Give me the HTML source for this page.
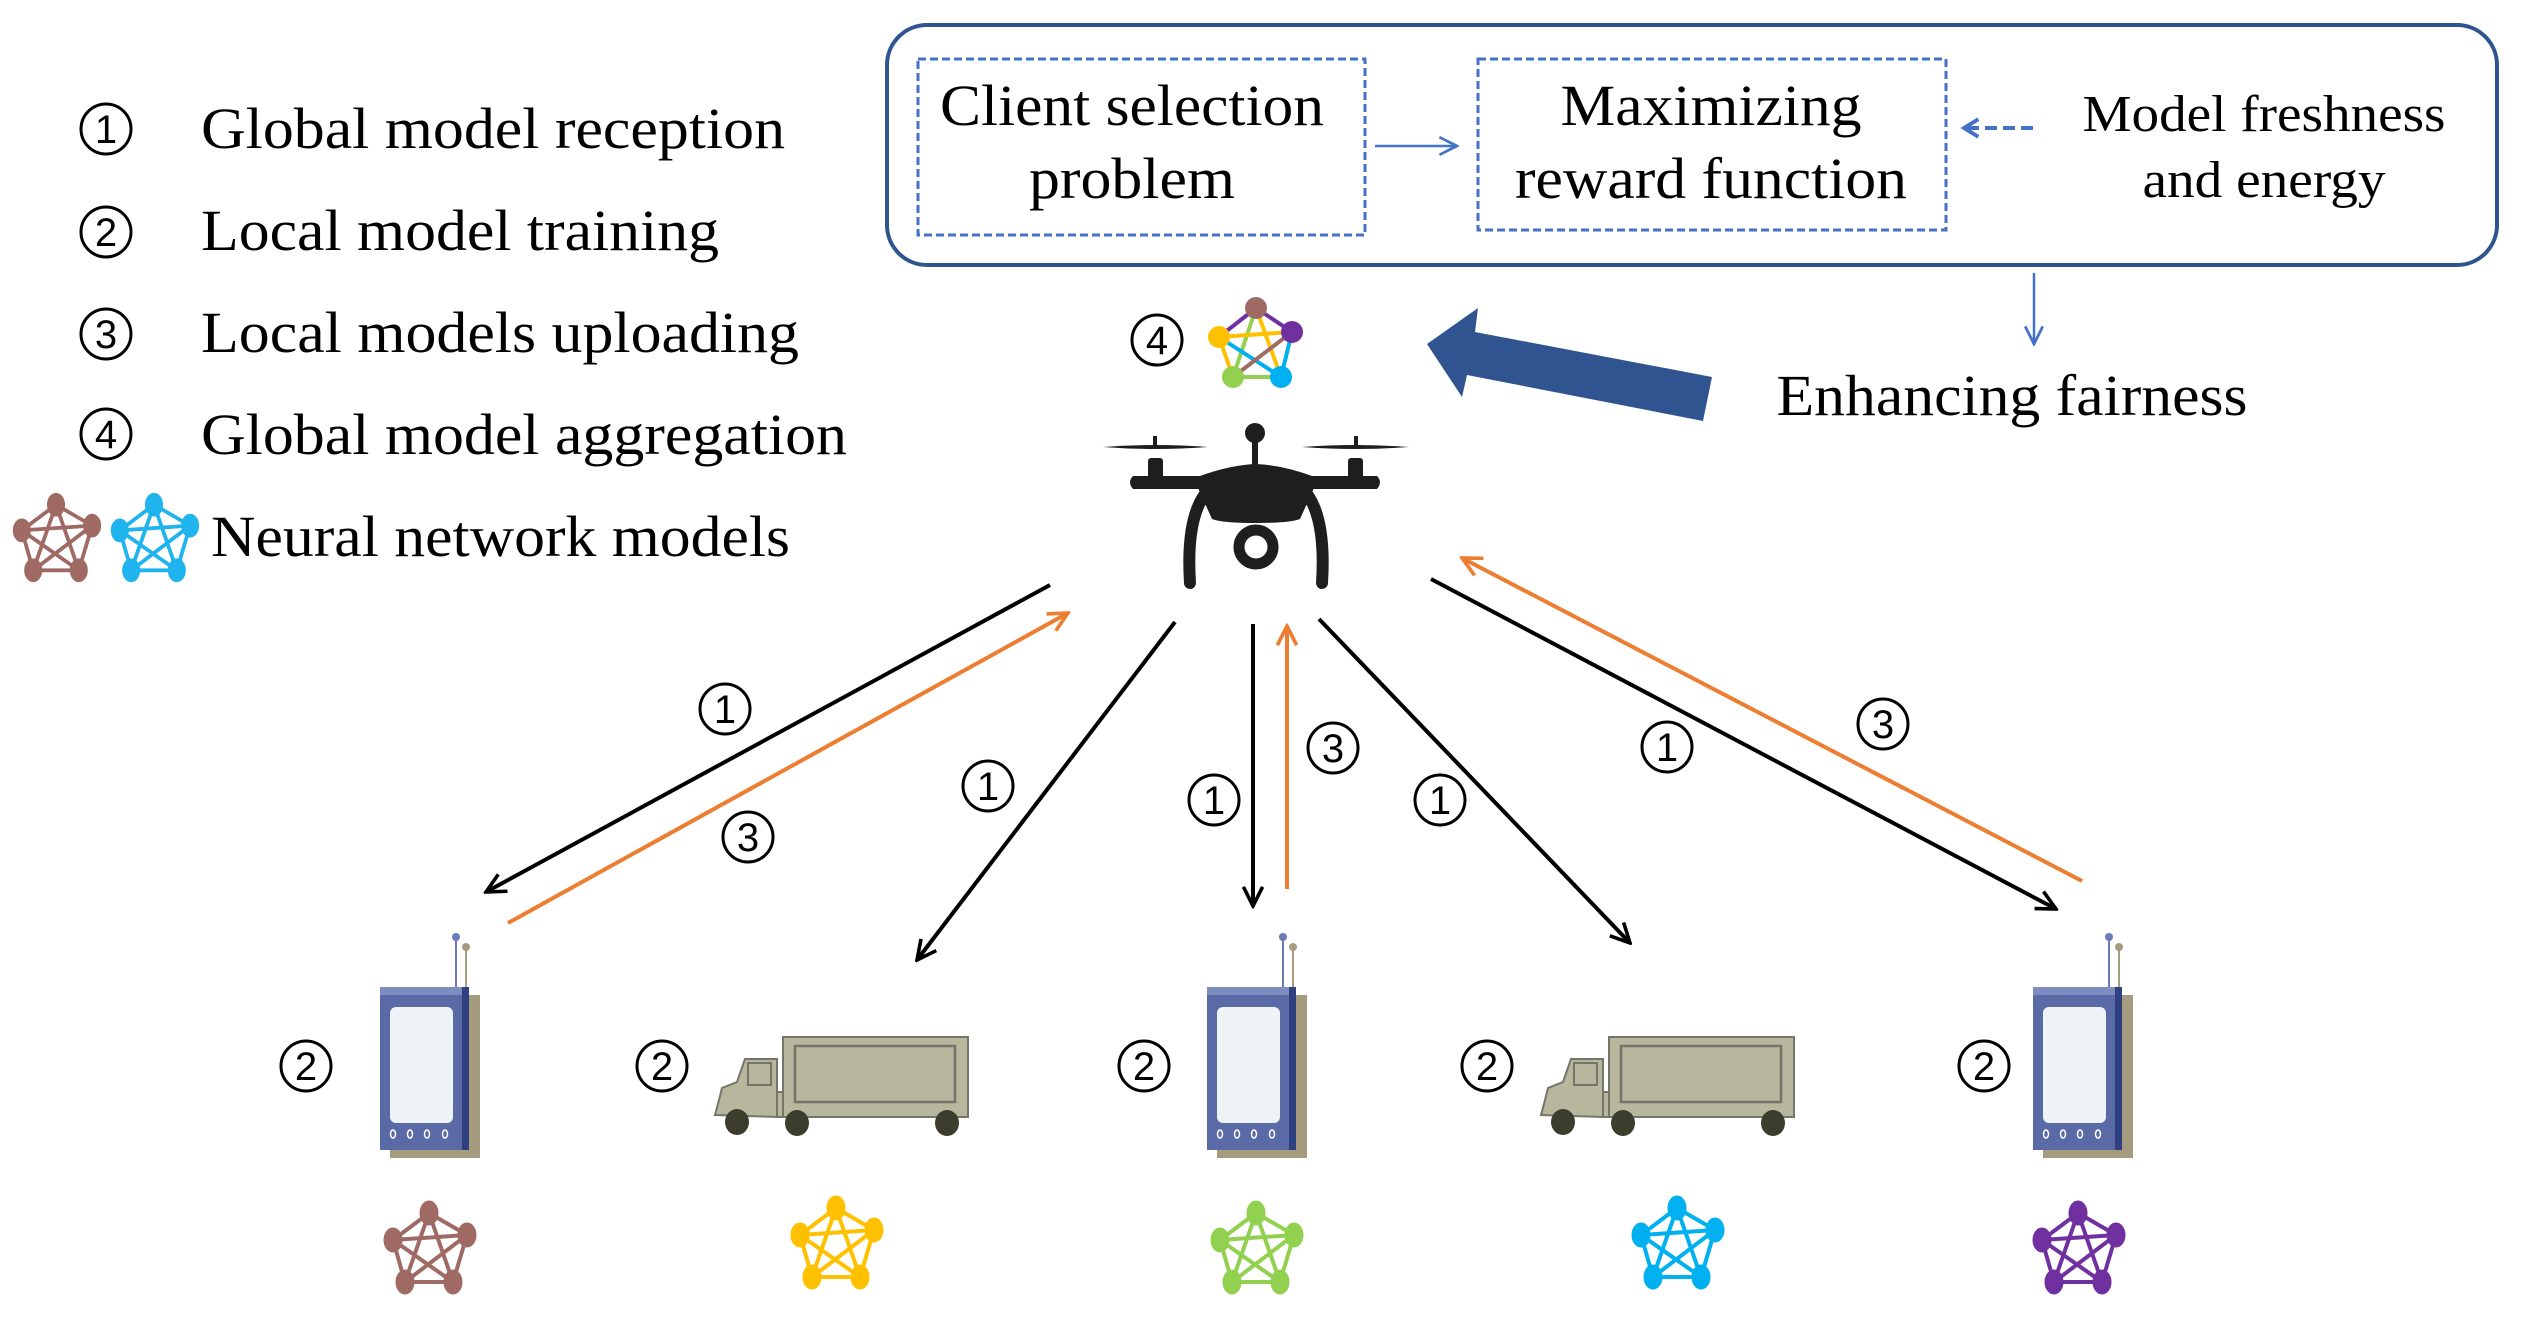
<!DOCTYPE html>
<html><head><meta charset="utf-8"><style>html,body{margin:0;padding:0;background:#fff}svg{display:block}</style></head>
<body>
<svg xmlns="http://www.w3.org/2000/svg" width="2521" height="1317" viewBox="0 0 2521 1317">
<defs>
<marker id="ab" viewBox="0 0 20 20" refX="18" refY="10" markerWidth="24" markerHeight="24" markerUnits="userSpaceOnUse" orient="auto"><path d="M2,2 L18,10 L2,18" fill="none" stroke="#000" stroke-width="3"/></marker>
<marker id="ao" viewBox="0 0 20 20" refX="18" refY="10" markerWidth="24" markerHeight="24" markerUnits="userSpaceOnUse" orient="auto"><path d="M2,2 L18,10 L2,18" fill="none" stroke="#ed7d31" stroke-width="3"/></marker>
<marker id="abl" viewBox="0 0 20 20" refX="18" refY="10" markerWidth="22" markerHeight="22" markerUnits="userSpaceOnUse" orient="auto"><path d="M2,2 L18,10 L2,18" fill="none" stroke="#4472c4" stroke-width="2.5"/></marker>
<marker id="abd" viewBox="0 0 20 20" refX="17" refY="10" markerWidth="22" markerHeight="22" markerUnits="userSpaceOnUse" orient="auto"><path d="M4,2 L17,10 L4,18" fill="none" stroke="#4472c4" stroke-width="3.5"/></marker>
<g id="net">
<g stroke-width="4" fill="none">
<path d="M0,-35 L-36,-8 L-24,34 L24,34 L38,-13 Z M0,-35 L-24,34 M0,-35 L24,34 M-36,-8 L38,-13 M-36,-8 L24,34 M38,-13 L-24,34"/>
</g>
<ellipse cx="0" cy="-35" rx="9" ry="12"/><ellipse cx="-36" cy="-8" rx="9" ry="12"/><ellipse cx="38" cy="-13" rx="9" ry="12"/><ellipse cx="-24" cy="34" rx="9" ry="12"/><ellipse cx="24" cy="34" rx="9" ry="12"/>
</g>
<g id="phone">
<rect x="390" y="995" width="90" height="163" fill="#a59c80"/>
<line x1="456" y1="937" x2="456" y2="990" stroke="#6a7ab8" stroke-width="2"/>
<circle cx="456" cy="937" r="4" fill="#6a7ab8"/>
<line x1="466" y1="947" x2="466" y2="990" stroke="#a59c80" stroke-width="2"/>
<circle cx="466" cy="947" r="4" fill="#a59c80"/>
<rect x="380" y="987" width="89" height="163" fill="#5a6aa6"/>
<rect x="380" y="987" width="89" height="8" fill="#7e8cc0"/>
<rect x="462" y="987" width="7" height="163" fill="#2f4080"/>
<rect x="390" y="1007" width="63" height="116" rx="6" fill="#eef3f6"/>
<g fill="none" stroke="#fff" stroke-width="1.5"><ellipse cx="393" cy="1134" rx="2.5" ry="4"/><ellipse cx="410" cy="1134" rx="2.5" ry="4"/><ellipse cx="427" cy="1134" rx="2.5" ry="4"/><ellipse cx="445" cy="1134" rx="2.5" ry="4"/></g>
</g>
<g id="truck">
<g fill="#b7b79d" stroke="#75756a" stroke-width="2">
<rect x="783" y="1037" width="185" height="80"/>
<rect x="795" y="1046" width="160" height="56" stroke-width="2.5"/>
<path d="M715,1115 L719,1100 L722,1088 L737,1082 L745,1059 L777,1059 L777,1117 Z"/>
<rect x="748" y="1063" width="23" height="22"/>
<rect x="777" y="1092" width="6" height="25"/>
</g>
<g fill="#3d3d2e"><ellipse cx="737" cy="1122" rx="12" ry="13"/><ellipse cx="797" cy="1123" rx="12" ry="13"/><ellipse cx="947" cy="1123" rx="12" ry="13"/></g>
</g>
</defs>

<g font-family="Liberation Sans, DejaVu Sans, sans-serif" font-size="40" text-anchor="middle">
<g fill="none" stroke="#000" stroke-width="3">
<ellipse cx="106" cy="129" rx="25" ry="25"/><ellipse cx="106" cy="232" rx="25" ry="25"/><ellipse cx="106" cy="334" rx="25" ry="25"/><ellipse cx="106" cy="434" rx="25" ry="25"/>
</g>
<text x="106" y="143">1</text><text x="106" y="246">2</text><text x="106" y="348">3</text><text x="106" y="448">4</text>
</g>
<g font-family="Liberation Serif, serif" font-size="58" fill="#000">
<text x="201" y="148" textLength="584" lengthAdjust="spacingAndGlyphs">Global model reception</text>
<text x="201" y="250" textLength="518" lengthAdjust="spacingAndGlyphs">Local model training</text>
<text x="201" y="352" textLength="598" lengthAdjust="spacingAndGlyphs">Local models uploading</text>
<text x="201" y="454" textLength="646" lengthAdjust="spacingAndGlyphs">Global model aggregation</text>
<text x="211" y="556" textLength="579" lengthAdjust="spacingAndGlyphs">Neural network models</text>
</g>
<use href="#net" transform="translate(56,538) scale(0.95)" fill="#a06a64" stroke="#a06a64"/>
<use href="#net" transform="translate(154,538) scale(0.95)" fill="#1fb4ee" stroke="#1fb4ee"/>

<rect x="887" y="25" width="1610" height="240" rx="40" fill="none" stroke="#2f5490" stroke-width="4"/>
<rect x="918" y="59" width="447" height="176" fill="none" stroke="#4472c4" stroke-width="3" stroke-dasharray="8 4"/>
<rect x="1478" y="59" width="468" height="171" fill="none" stroke="#4472c4" stroke-width="3" stroke-dasharray="8 4"/>
<line x1="1375" y1="146" x2="1457" y2="146" stroke="#4472c4" stroke-width="2.5" marker-end="url(#abl)"/>
<line x1="2033" y1="128" x2="1964" y2="128" stroke="#4472c4" stroke-width="4" stroke-dasharray="12 6" marker-end="url(#abd)"/>
<line x1="2034" y1="273" x2="2034" y2="344" stroke="#4472c4" stroke-width="2.5" marker-end="url(#abl)"/>
<g font-family="Liberation Serif, serif" font-size="58" fill="#000" text-anchor="middle">
<text x="1132" y="125" textLength="384" lengthAdjust="spacingAndGlyphs">Client selection</text>
<text x="1132" y="198" textLength="206" lengthAdjust="spacingAndGlyphs">problem</text>
<text x="1711" y="125" textLength="301" lengthAdjust="spacingAndGlyphs">Maximizing</text>
<text x="1711" y="198" textLength="392" lengthAdjust="spacingAndGlyphs">reward function</text>
<text x="2264" y="131" font-size="52" textLength="363" lengthAdjust="spacingAndGlyphs">Model freshness</text>
<text x="2264" y="197" font-size="52" textLength="243" lengthAdjust="spacingAndGlyphs">and energy</text>
<text x="2012" y="415" textLength="471" lengthAdjust="spacingAndGlyphs">Enhancing fairness</text>
</g>
<path d="M1427,344 L1478,308 L1475,332 L1712,377 L1703,421 L1467,375 L1462,397 Z" fill="#2f5490"/>

<ellipse cx="1157" cy="340" rx="25" ry="25" fill="none" stroke="#000" stroke-width="3"/>
<text x="1157" y="354" font-family="Liberation Sans, DejaVu Sans, sans-serif" font-size="40" text-anchor="middle">4</text>
<g stroke-width="4">
<line x1="1256" y1="308" x2="1292" y2="332" stroke="#7030a0"/>
<line x1="1256" y1="308" x2="1219" y2="337" stroke="#7030a0"/>
<line x1="1256" y1="308" x2="1233" y2="377" stroke="#92d050"/>
<line x1="1256" y1="308" x2="1281" y2="377" stroke="#ffc000"/>
<line x1="1219" y1="337" x2="1292" y2="332" stroke="#ffc000"/>
<line x1="1219" y1="337" x2="1233" y2="377" stroke="#ffc000"/>
<line x1="1219" y1="337" x2="1281" y2="377" stroke="#00b0f0"/>
<line x1="1292" y1="332" x2="1281" y2="377" stroke="#00b0f0"/>
<line x1="1292" y1="332" x2="1233" y2="377" stroke="#a06a64"/>
<line x1="1233" y1="377" x2="1281" y2="377" stroke="#92d050"/>
</g>
<circle cx="1256" cy="308" r="11" fill="#a06a64"/><circle cx="1292" cy="332" r="11" fill="#7030a0"/><circle cx="1281" cy="377" r="11" fill="#00b0f0"/><circle cx="1233" cy="377" r="11" fill="#92d050"/><circle cx="1219" cy="337" r="11" fill="#ffc000"/>

<g fill="#1e1e1e" stroke="none">
<path d="M1103,447 Q1155,443 1208,447 Q1155,451 1103,447 Z"/>
<path d="M1302,447 Q1355,443 1409,447 Q1355,451 1302,447 Z"/>
<rect x="1153" y="436" width="4" height="12"/><rect x="1354" y="436" width="4" height="12"/>
<rect x="1148" y="458" width="15" height="24" rx="3"/><rect x="1348" y="458" width="15" height="24" rx="3"/>
<circle cx="1255" cy="433" r="10"/><rect x="1252" y="433" width="6" height="32"/>
<path d="M1133,476 L1200,476 Q1230,465 1256,464 Q1282,465 1312,476 L1377,476 Q1383,482 1377,489 L1133,489 Q1127,482 1133,476 Z"/>
<path d="M1198,488 L1314,488 L1300,519 Q1290,523 1256,523 Q1222,523 1212,519 Z"/>
</g>
<g fill="none" stroke="#1e1e1e" stroke-width="12" stroke-linecap="round">
<path d="M1205,494 Q1186,520 1190,583"/>
<path d="M1307,494 Q1326,520 1322,583"/>
</g>
<circle cx="1256" cy="547" r="17" fill="none" stroke="#1e1e1e" stroke-width="11"/>

<g stroke-width="4" fill="none">
<line x1="1050" y1="585" x2="486" y2="892" stroke="#000" marker-end="url(#ab)"/>
<line x1="508" y1="923" x2="1068" y2="613" stroke="#ed7d31" marker-end="url(#ao)"/>
<line x1="1175" y1="622" x2="917" y2="960" stroke="#000" marker-end="url(#ab)"/>
<line x1="1253" y1="624" x2="1253" y2="906" stroke="#000" marker-end="url(#ab)"/>
<line x1="1287" y1="889" x2="1287" y2="626" stroke="#ed7d31" marker-end="url(#ao)"/>
<line x1="1319" y1="619" x2="1630" y2="943" stroke="#000" marker-end="url(#ab)"/>
<line x1="1431" y1="579" x2="2056" y2="909" stroke="#000" marker-end="url(#ab)"/>
<line x1="2082" y1="881" x2="1462" y2="558" stroke="#ed7d31" marker-end="url(#ao)"/>
</g>

<g fill="none" stroke="#000" stroke-width="3">
<ellipse cx="725" cy="709" rx="25" ry="25"/><ellipse cx="748" cy="837" rx="25" ry="25"/><ellipse cx="988" cy="786" rx="25" ry="25"/><ellipse cx="1214" cy="800" rx="25" ry="25"/><ellipse cx="1333" cy="748" rx="25" ry="25"/><ellipse cx="1440" cy="800" rx="25" ry="25"/><ellipse cx="1667" cy="747" rx="25" ry="25"/><ellipse cx="1883" cy="724" rx="25" ry="25"/>
<ellipse cx="306" cy="1066" rx="25" ry="25"/><ellipse cx="662" cy="1066" rx="25" ry="25"/><ellipse cx="1144" cy="1066" rx="25" ry="25"/><ellipse cx="1487" cy="1066" rx="25" ry="25"/><ellipse cx="1984" cy="1066" rx="25" ry="25"/>
</g>
<g font-family="Liberation Sans, DejaVu Sans, sans-serif" font-size="40" text-anchor="middle">
<text x="725" y="723">1</text><text x="748" y="851">3</text><text x="988" y="800">1</text><text x="1214" y="814">1</text><text x="1333" y="762">3</text><text x="1440" y="814">1</text><text x="1667" y="761">1</text><text x="1883" y="738">3</text>
<text x="306" y="1080">2</text><text x="662" y="1080">2</text><text x="1144" y="1080">2</text><text x="1487" y="1080">2</text><text x="1984" y="1080">2</text>
</g>

<use href="#phone"/>
<use href="#phone" transform="translate(827,0)"/>
<use href="#phone" transform="translate(1653,0)"/>
<use href="#truck"/>
<use href="#truck" transform="translate(826,0)"/>

<use href="#net" transform="translate(429,1248)" fill="#a06a64" stroke="#a06a64"/>
<use href="#net" transform="translate(836,1243)" fill="#ffc000" stroke="#ffc000"/>
<use href="#net" transform="translate(1256,1248)" fill="#92d050" stroke="#92d050"/>
<use href="#net" transform="translate(1677,1243)" fill="#00b0f0" stroke="#00b0f0"/>
<use href="#net" transform="translate(2078,1248)" fill="#7030a0" stroke="#7030a0"/>
</svg>
</body></html>
